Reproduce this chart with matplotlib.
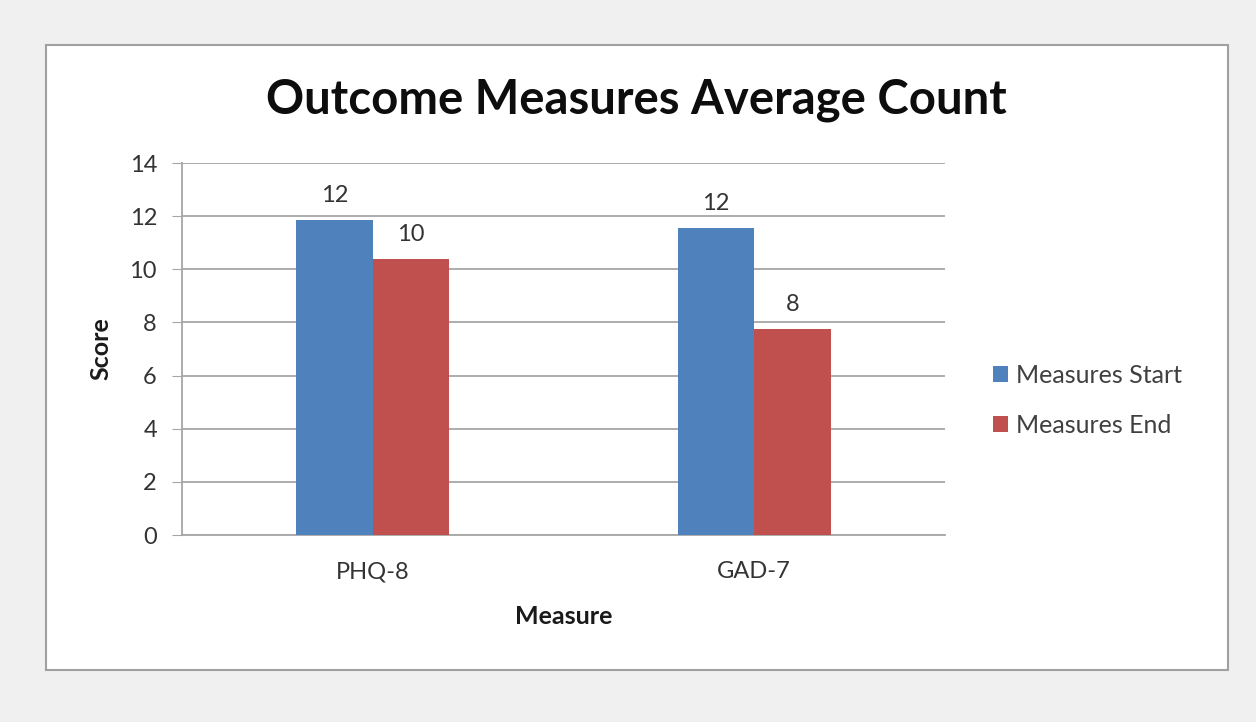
import numpy as np
import matplotlib.pyplot as plt
from matplotlib.patches import Rectangle

# --- data ---
measures = ['PHQ-8', 'GAD-7']
start_scores = [11.85, 11.55]
end_scores = [10.4, 7.75]
start_labels = ['12', '12']
end_labels = ['10', '8']

blue = '#4f81bd'
red = '#c0504d'
grid_col = '#a6a6a6'
txt_col = '#333333'
font = ['Lato', 'DejaVu Sans']
plt.rcParams['font.family'] = font

fig = plt.figure(figsize=(12.56, 7.22), dpi=100, facecolor='#f0f0f0')

# white chart box with grey border
fig.patches.append(Rectangle((46 / 1256, 1 - 670 / 722), (1228 - 46) / 1256, (670 - 45) / 722,
                             transform=fig.transFigure, facecolor='white',
                             edgecolor='#a0a0a0', linewidth=1.5, zorder=-1))

ax = fig.add_axes([182 / 1256, 1 - 535 / 722, (945 - 182) / 1256, (535 - 163) / 722], zorder=1)
ax.set_facecolor('white')

x = np.arange(len(measures))
w = 0.2
b1 = ax.bar(x - w / 2, start_scores, w, color=blue, label='Measures Start', zorder=3)
b2 = ax.bar(x + w / 2, end_scores, w, color=red, label='Measures End', zorder=3)

for bars, labs in [(b1, start_labels), (b2, end_labels)]:
    for rect, lab in zip(bars, labs):
        ax.annotate(lab, (rect.get_x() + rect.get_width() / 2, rect.get_height()),
                    xytext=(0, 10), textcoords='offset points', ha='center', va='bottom',
                    fontsize=17, color=txt_col)

ax.set_xlim(-0.5, 1.5)
ax.set_ylim(0, 14)
ax.set_yticks(range(0, 15, 2))
ax.set_xticks(x)
ax.set_xticklabels(measures)
ax.yaxis.grid(True, color=grid_col, linewidth=1.3, zorder=0)
ax.tick_params(axis='y', length=7, color=grid_col, labelsize=17, labelcolor=txt_col, pad=11)
ax.tick_params(axis='x', length=0, labelsize=17, labelcolor=txt_col, pad=19)
for s in ['top', 'right']:
    ax.spines[s].set_visible(False)
ax.spines['left'].set_color(grid_col)
ax.spines['bottom'].set_color(grid_col)
ax.spines['left'].set_linewidth(1.3)
ax.spines['bottom'].set_linewidth(1.3)

ax.set_ylabel('Score', fontsize=18, fontweight='bold', labelpad=12, color='#1a1a1a')
ax.set_xlabel('Measure', fontsize=18, fontweight='bold', labelpad=16, color='#1a1a1a')

fig.text(636 / 1256, 1 - 100 / 722, 'Outcome Measures Average Count', ha='center', va='center',
         fontsize=34, fontweight='bold', color='#0d0d0d')

ax.legend(loc='center left', bbox_to_anchor=(1.034, 0.362), frameon=False, fontsize=18,
          handlelength=0.6, handleheight=0.6, handletextpad=0.3, labelspacing=1.1,
          labelcolor='#404040')

fig.savefig('out.png', dpi=100, facecolor=fig.get_facecolor())
